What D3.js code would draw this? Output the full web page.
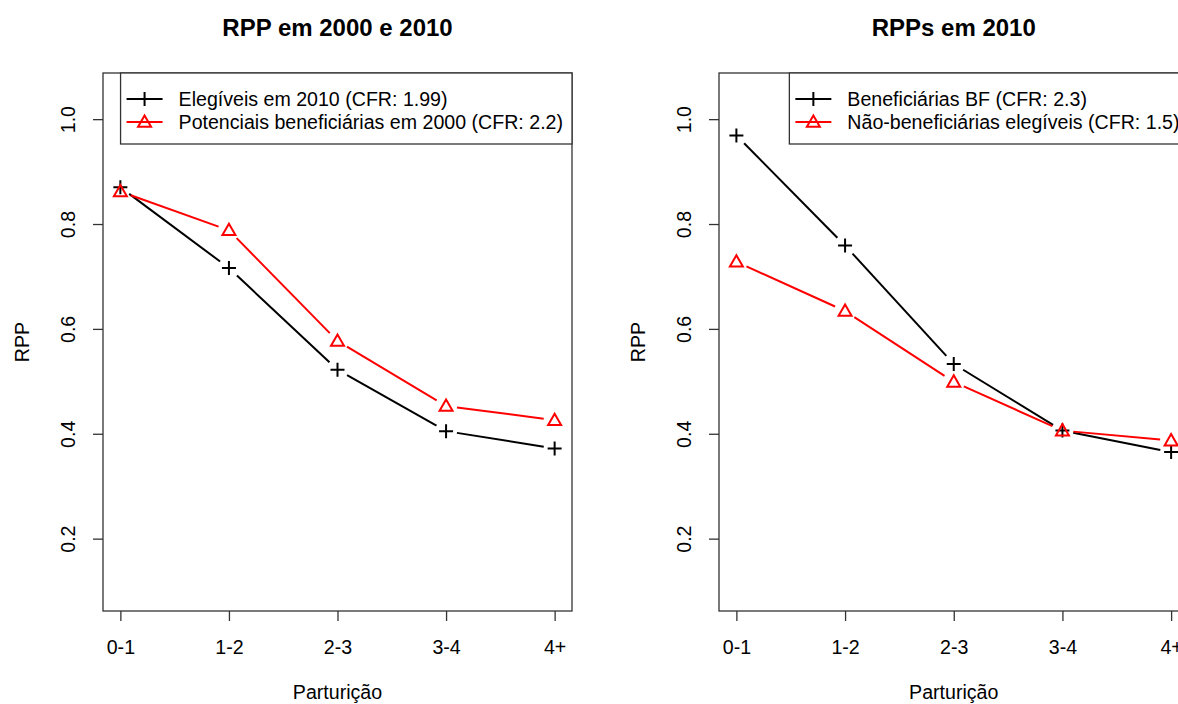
<!DOCTYPE html>
<html>
<head>
<meta charset="utf-8">
<script src="https://cdn.jsdelivr.net/npm/d3@7"></script>
<style>
  html, body { margin: 0; padding: 0; background: #fff; }
  svg { display: block; font-family: "Liberation Sans", Arial, sans-serif; }
</style>
</head>
<body>
<svg id="chart" width="1178" height="704"></svg>
<script>
// Parity groups on the x axis
const categories = ["0-1", "1-2", "2-3", "3-4", "4+"];
const yTicks = [0.2, 0.4, 0.6, 0.8, 1.0];

// Left panel: RPP in 2000 and 2010
const elegiveis2010 = [0.870, 0.716, 0.522, 0.405, 0.372];
const potenciais2000 = [0.862, 0.788, 0.577, 0.453, 0.426];

// Right panel: RPPs in 2010
const beneficiariasBF = [0.969, 0.759, 0.533, 0.406, 0.365];
const naoBeneficiarias = [0.728, 0.634, 0.499, 0.406, 0.387];

const panels = [
  {
    title: "RPP em 2000 e 2010",
    left: 103, right: 572,
    series: [
      { name: "Elegíveis em 2010 (CFR: 1.99)", values: elegiveis2010, color: "#000000", pch: "plus" },
      { name: "Potenciais beneficiárias em 2000 (CFR: 2.2)", values: potenciais2000, color: "#ff0000", pch: "triangle" }
    ]
  },
  {
    title: "RPPs em 2010",
    left: 719, right: 1188.5,
    series: [
      { name: "Beneficiárias BF (CFR: 2.3)", values: beneficiariasBF, color: "#000000", pch: "plus" },
      { name: "Não-beneficiárias elegíveis (CFR: 1.5)", values: naoBeneficiarias, color: "#ff0000", pch: "triangle" }
    ]
  }
];

const plotTop = 73, plotBottom = 611;
const baseFont = 19.6;
const svg = d3.select("#chart");

// Point glyphs
function drawPoint(g, x, y, pch, color) {
  if (pch === "plus") {
    g.append("path")
      .attr("d", `M${x - 7},${y}H${x + 7}M${x},${y - 7}V${y + 7}`)
      .attr("stroke", color).attr("stroke-width", 2).attr("fill", "none");
  } else {
    g.append("path")
      .attr("d", `M${x},${y - 6.5}L${x - 6.5},${y + 4.8}L${x + 6.5},${y + 4.8}Z`)
      .attr("stroke", color).attr("stroke-width", 2).attr("fill", "none")
      .attr("stroke-linejoin", "miter");
  }
}

panels.forEach(p => {
  const g = svg.append("g");

  // x: positions 1..5 with 4% padding on each side
  const x = d3.scaleLinear().domain([0.84, 5.16]).range([p.left, p.right]);
  // y: limits 0.1..1.05 with 4% padding
  const y = d3.scaleLinear().domain([0.062, 1.088]).range([plotBottom, plotTop]);

  // Title
  g.append("text")
    .attr("x", (p.left + p.right) / 2).attr("y", 35.5)
    .attr("text-anchor", "middle")
    .attr("font-size", 24).attr("font-weight", "bold")
    .text(p.title);

  // Bottom axis with category labels
  const xAxis = d3.axisBottom(x)
    .tickValues(d3.range(1, 6))
    .tickFormat(i => categories[i - 1])
    .tickSize(10).tickSizeOuter(0);
  const gx = g.append("g").attr("transform", `translate(0,${plotBottom})`).call(xAxis);
  gx.select(".domain").remove();
  gx.selectAll(".tick line").attr("stroke", "#333").attr("stroke-width", 1.3);
  gx.selectAll(".tick text")
    .attr("y", 43).attr("dy", null)
    .attr("font-size", baseFont).attr("fill", "#000")
    .attr("font-family", "Liberation Sans, Arial, sans-serif");

  // Left axis with rotated labels
  const yAxis = d3.axisLeft(y)
    .tickValues(yTicks)
    .tickFormat(d3.format(".1f"))
    .tickSize(10).tickSizeOuter(0);
  const gy = g.append("g").attr("transform", `translate(${p.left},0)`).call(yAxis);
  gy.select(".domain").remove();
  gy.selectAll(".tick line").attr("stroke", "#333").attr("stroke-width", 1.3);
  gy.selectAll(".tick text")
    .attr("x", null)
    .attr("transform", "translate(-35,0) rotate(-90)")
    .attr("dy", "0.35em")
    .attr("text-anchor", "middle")
    .attr("font-size", baseFont).attr("fill", "#000")
    .attr("font-family", "Liberation Sans, Arial, sans-serif");

  // Axis titles
  g.append("text")
    .attr("x", (p.left + p.right) / 2).attr("y", 699)
    .attr("text-anchor", "middle").attr("font-size", baseFont)
    .text("Parturição");
  g.append("text")
    .attr("transform", `translate(${p.left - 81},${(plotTop + plotBottom) / 2}) rotate(-90)`)
    .attr("dy", "0.35em")
    .attr("text-anchor", "middle").attr("font-size", baseFont)
    .text("RPP");

  // Plot frame
  g.append("rect")
    .attr("x", p.left).attr("y", plotTop)
    .attr("width", p.right - p.left).attr("height", plotBottom - plotTop)
    .attr("fill", "none").attr("stroke", "#333").attr("stroke-width", 1.3);

  // Series: lines broken around the points, then the points
  const gap = 11;
  p.series.forEach(s => {
    const pts = s.values.map((v, i) => [x(i + 1), y(v)]);
    for (let i = 0; i < pts.length - 1; i++) {
      const [x0, y0] = pts[i], [x1, y1] = pts[i + 1];
      const len = Math.hypot(x1 - x0, y1 - y0);
      if (len <= 2 * gap) continue;
      const ux = (x1 - x0) / len, uy = (y1 - y0) / len;
      g.append("line")
        .attr("x1", x0 + ux * gap).attr("y1", y0 + uy * gap)
        .attr("x2", x1 - ux * gap).attr("y2", y1 - uy * gap)
        .attr("stroke", s.color).attr("stroke-width", 2);
    }
    pts.forEach(([px, py]) => drawPoint(g, px, py, s.pch, s.color));
  });

  // Legend (top right)
  const lg = g.append("g");
  const texts = p.series.map((s, i) =>
    lg.append("text")
      .attr("y", 106 + i * 23)
      .attr("font-size", baseFont)
      .text(s.name));
  const maxW = d3.max(texts, t => t.node().getComputedTextLength());
  const boxLeft = p.right - (maxW + 58 + 9);
  texts.forEach(t => t.attr("x", boxLeft + 58));
  lg.insert("rect", "text")
    .attr("x", boxLeft).attr("y", plotTop)
    .attr("width", p.right - boxLeft).attr("height", 144 - plotTop)
    .attr("fill", "#fff").attr("stroke", "#333").attr("stroke-width", 1.3);
  p.series.forEach((s, i) => {
    const ly = 99 + i * 23;
    lg.append("line")
      .attr("x1", boxLeft + 6).attr("x2", boxLeft + 42)
      .attr("y1", ly).attr("y2", ly)
      .attr("stroke", s.color).attr("stroke-width", 2);
    drawPoint(lg, boxLeft + 24, ly, s.pch, s.color);
  });
});
</script>
</body>
</html>
